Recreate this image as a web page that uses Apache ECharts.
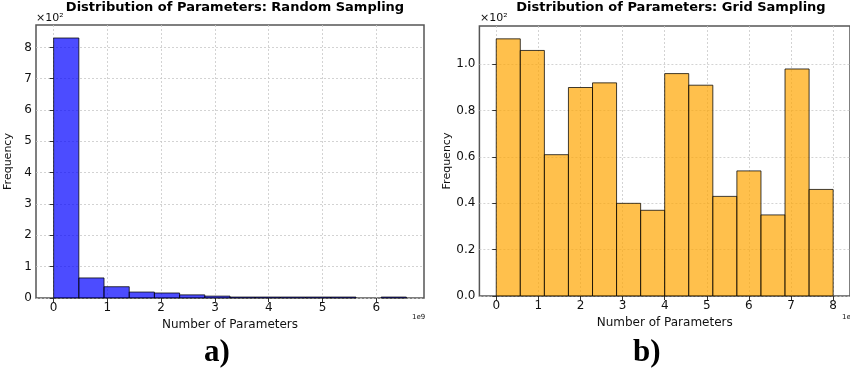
<!DOCTYPE html>
<html>
<head>
<meta charset="utf-8">
<script src="https://cdn.jsdelivr.net/npm/echarts@6/dist/echarts.min.js"></script>
<style>
  html, body { margin: 0; padding: 0; background: #fff; }
  #main { width: 850px; height: 370px; }
</style>
</head>
<body>
<div id="main"></div>
<script>
// bin edges (x 1e9) and counts
var randomEdges = [0, 0.469, 0.937, 1.406, 1.874, 2.343, 2.811, 3.280, 3.749, 4.217, 4.686, 5.154, 5.623, 6.091, 6.560];
var randomCounts = [830, 64, 36, 19, 16, 10, 6, 3, 3, 3, 3, 3, 0, 3];
var gridEdges = [0, 0.571, 1.143, 1.714, 2.286, 2.857, 3.429, 4.0, 4.571, 5.143, 5.714, 6.286, 6.857, 7.429, 8.0];
var gridCounts = [111, 106, 61, 90, 92, 40, 37, 96, 91, 43, 54, 35, 98, 46];
var randomXTicks = [0, 1, 2, 3, 4, 5, 6];
var gridXTicks = [0, 1, 2, 3, 4, 5, 6, 7, 8];
var randomYTicks = [0, 100, 200, 300, 400, 500, 600, 700, 800];
var gridYTicks = [0, 20, 40, 60, 80, 100];

var FONT = 'DejaVu Sans';

function toBins(edges, counts) {
	var out = [];
	for (var i = 0; i < counts.length; i++) {
		out.push([edges[i], edges[i + 1], counts[i]]);
	}
	return out;
}

function histSeries(idx, data, fill) {
	return {
		type: 'custom',
		xAxisIndex: idx,
		yAxisIndex: idx,
		data: data,
		encode: { x: [0, 1], y: 2 },
		renderItem: function(params, api) {
			if (api.value(2) <= 0) return null;
			var p0 = api.coord([api.value(0), api.value(2)]);
			var p1 = api.coord([api.value(1), 0]);
			return {
				type: 'rect',
				shape: { x: p0[0], y: p0[1], width: p1[0] - p0[0], height: p1[1] - p0[1] },
				style: { fill: fill, stroke: 'rgba(0,0,0,0.75)', lineWidth: 1 }
			};
		}
	};
}

var splitStyle = { show: true, lineStyle: { color: '#c8c8c8', type: [2, 2], width: 0.8 } };
var axLine = { show: false };

function xAxisOf(idx, min, max, ticks) {
	return {
		type: 'value', gridIndex: idx, min: min, max: max,
		axisLine: axLine,
		axisTick: { show: true, length: 4, inside: false, customValues: ticks, lineStyle: { color: '#333' } },
		axisLabel: { customValues: ticks, color: '#111', fontFamily: FONT, fontSize: 12, margin: 4 },
		splitLine: splitStyle,
		name: 'Number of Parameters', nameLocation: 'middle', nameGap: 20,
		nameTextStyle: { fontFamily: FONT, fontSize: 12, color: '#111' }
	};
}

function yAxisOf(idx, max, ticks, fmt) {
	return {
		type: 'value', gridIndex: idx, min: 0, max: max,
		axisLine: axLine,
		axisTick: { show: true, length: 4, customValues: ticks, lineStyle: { color: '#333' } },
		axisLabel: { customValues: ticks, color: '#111', fontFamily: FONT, fontSize: 12, margin: 4, formatter: fmt },
		splitLine: splitStyle,
		name: 'Frequency', nameLocation: 'middle', nameGap: 22, nameRotate: 90,
		nameTextStyle: { fontFamily: FONT, fontSize: 11, color: '#111' }
	};
}

var chart = echarts.init(document.getElementById('main'));
chart.setOption({
	animation: false,
	backgroundColor: '#fff',
	title: [
		{ text: 'Distribution of Parameters: Random Sampling', left: 230, top: -4, textAlign: 'center',
		  textStyle: { fontFamily: FONT, fontSize: 13, fontWeight: 'bold', color: '#000' } },
		{ text: 'Distribution of Parameters: Grid Sampling', left: 666, top: -4, textAlign: 'center',
		  textStyle: { fontFamily: FONT, fontSize: 13, fontWeight: 'bold', color: '#000' } }
	],
	grid: [
		{ left: 36, top: 25, width: 388, height: 273, show: true, borderColor: '#555', borderWidth: 1.5, backgroundColor: 'transparent' },
		{ left: 479.4, top: 26, width: 372, height: 270, show: true, borderColor: '#555', borderWidth: 1.5, backgroundColor: 'transparent' }
	],
	xAxis: [
		xAxisOf(0, -0.328, 6.888, randomXTicks),
		xAxisOf(1, -0.4, 8.4, gridXTicks)
	],
	yAxis: [
		yAxisOf(0, 871.5, randomYTicks, function(v) { return String(v / 100); }),
		yAxisOf(1, 116.55, gridYTicks, function(v) { return (v / 100).toFixed(1); })
	],
	series: [
		histSeries(0, toBins(randomEdges, randomCounts), 'rgba(0,0,255,0.7)'),
		histSeries(1, toBins(gridEdges, gridCounts), 'rgba(255,165,0,0.7)')
	],
	graphic: [
		{ type: 'text', left: 36, top: 13, style: { text: '×10²', font: '11px DejaVu Sans', fill: '#111' } },
		{ type: 'text', left: 480, top: 13, style: { text: '×10²', font: '11px DejaVu Sans', fill: '#111' } },
		{ type: 'text', left: 412, top: 314, style: { text: '1e9', font: '7px DejaVu Sans', fill: '#111' } },
		{ type: 'text', left: 842, top: 314, style: { text: '1e9', font: '7px DejaVu Sans', fill: '#111' } },
		{ type: 'text', left: 204, top: 337, style: { text: 'a)', font: 'bold 31px "Liberation Serif"', fill: '#000' } },
		{ type: 'text', left: 633, top: 337, style: { text: 'b)', font: 'bold 31px "Liberation Serif"', fill: '#000' } }
	]
});
</script>
</body>
</html>
